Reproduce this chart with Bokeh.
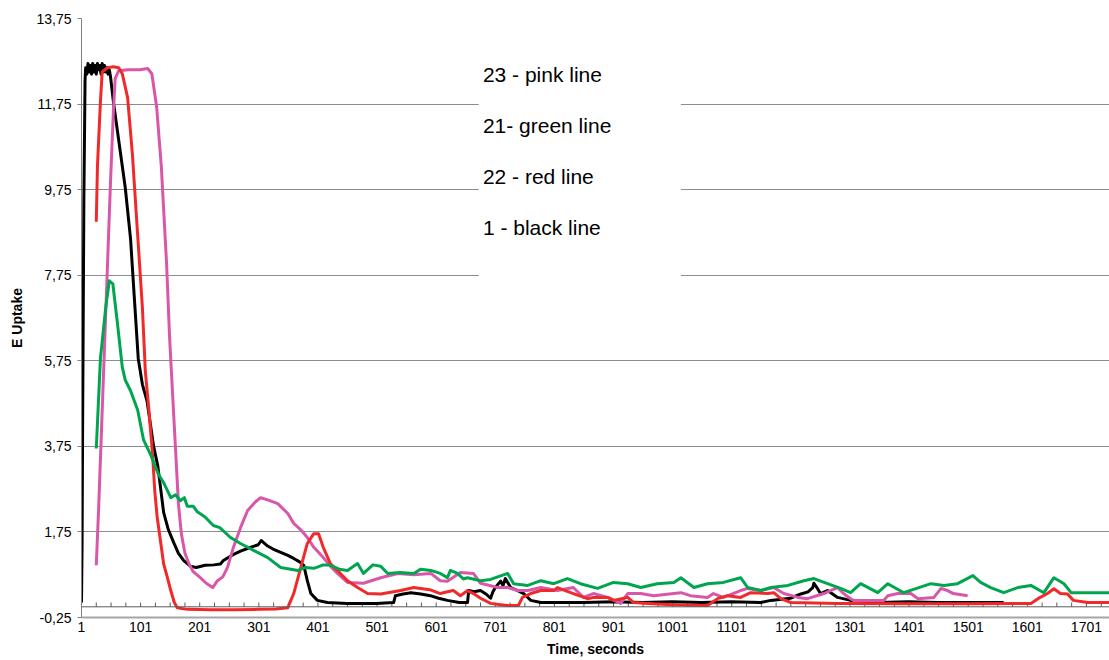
from bokeh.plotting import figure
from bokeh.layouts import row
from bokeh.models import (Range1d, FixedTicker, CustomJSTickFormatter, Span,
                          BoxAnnotation, Label, Spacer)
from bokeh.embed import file_html
from bokeh.resources import INLINE

FONT = "Liberation Sans"

# ---------------- data ----------------
black_x = [1, 2, 3, 5, 7, 8, 10, 12, 14, 16, 18, 20, 22, 24, 26, 28, 30, 32, 34, 36, 38, 40, 42, 44, 46, 48, 50,
           55, 65, 75, 84, 90, 97, 104, 112, 123, 130, 135, 140, 148, 157, 165, 174, 185, 195,
           210, 225, 236, 241, 255, 270, 285, 300, 305, 309, 316, 325, 338, 350, 360, 370, 377, 383, 389, 400, 417,
           450, 500, 529, 532, 545, 558, 575, 591, 605, 620, 640, 654, 656, 665, 676, 685, 693, 697, 701, 710, 714,
           718, 727, 739, 749, 761, 778,
           850, 900, 950, 1000, 1050, 1100, 1150, 1167, 1200, 1218, 1230, 1238, 1240, 1245, 1251, 1263, 1280, 1302,
           1350, 1400, 1450, 1500, 1561]
black_y = [0.1, 1.5, 4.5, 9.5, 12.3, 12.6,
           12.45, 12.7, 12.5, 12.65, 12.45, 12.7, 12.5, 12.65, 12.45, 12.7, 12.55, 12.65, 12.45, 12.7, 12.5, 12.65,
           12.5, 12.6, 12.45, 12.55, 12.4,
           11.8, 10.8, 9.8, 8.6, 7.3, 5.8, 5.2, 4.8, 3.75, 3.3, 2.75, 2.2, 1.8, 1.5, 1.25, 1.08, 0.95, 0.92,
           0.97, 0.98, 1.0, 1.08, 1.2, 1.3, 1.38, 1.45, 1.55, 1.5, 1.42, 1.35, 1.27, 1.2, 1.13, 1.05, 0.97, 0.61,
           0.31, 0.15, 0.1,
           0.08, 0.08, 0.1, 0.26, 0.3, 0.33, 0.3, 0.26, 0.2, 0.15, 0.1, 0.1, 0.38, 0.35, 0.38, 0.3, 0.2, 0.35,
           0.45, 0.6, 0.5, 0.66, 0.45, 0.38, 0.31, 0.15, 0.1,
           0.1, 0.12, 0.1, 0.12, 0.1, 0.12, 0.1, 0.15, 0.2, 0.3, 0.35, 0.45, 0.55, 0.45, 0.31, 0.38, 0.22, 0.15,
           0.1, 0.12, 0.1, 0.1, 0.1]

red_x = [26, 28, 33, 36, 45, 55, 64, 70, 79, 87, 95, 104, 109, 115, 121, 125, 129, 140, 146, 152,
         158, 163, 180, 220, 260, 300, 330, 350, 360, 372, 383, 394, 402, 410, 422, 439, 451, 468, 485, 507,
         541, 563, 590, 608, 620, 630, 642, 654, 664, 676, 693, 710, 722, 740, 747, 761, 778, 800, 806, 833,
         857, 867, 891, 901, 925, 935, 959, 1000, 1060, 1077, 1094, 1116, 1133, 1162, 1172, 1184, 1201, 1280,
         1400, 1500, 1607, 1619, 1635, 1646, 1657, 1669, 1679, 1703, 1740]
red_y = [9.0, 10.3, 11.8, 12.5, 12.6, 12.62, 12.6, 12.46, 11.9, 10.6, 8.9, 7.0, 5.5, 4.6, 3.6, 2.7, 2.1, 1.0,
         0.7, 0.38,
         0.1, -0.02, -0.06, -0.07, -0.07, -0.06, -0.05, -0.02, 0.31, 0.92, 1.48, 1.71, 1.71, 1.39, 1.01, 0.78,
         0.61, 0.45, 0.31, 0.3,
         0.38, 0.45, 0.4, 0.31, 0.35, 0.38, 0.26, 0.38, 0.31, 0.2, 0.08, 0.05, 0.03, 0.03, 0.22, 0.31, 0.38,
         0.38, 0.45, 0.31,
         0.19, 0.22, 0.22, 0.15, 0.22, 0.1, 0.08, 0.05, 0.03, 0.19, 0.26, 0.22, 0.33, 0.31, 0.33, 0.19, 0.1,
         0.08, 0.07, 0.07, 0.08, 0.19, 0.31, 0.42, 0.31, 0.3, 0.15, 0.1, 0.1]

green_x = [26, 33, 42, 48, 54, 62, 70, 75, 84, 96, 106, 118, 131, 140, 147, 152, 160, 168, 175, 180,
           190, 197, 210, 224, 235, 253, 270, 292, 316, 338, 355, 367, 380, 394, 410, 422, 437, 451, 468, 478,
           494, 507, 519, 540, 563, 575, 592, 608, 620, 625, 637, 647, 654, 676, 693, 705, 722, 732, 756, 778,
           800, 823, 845, 874, 901, 925, 947, 975, 1003, 1015, 1037, 1060, 1087, 1116, 1128, 1150, 1167, 1196,
           1223, 1240, 1263, 1285, 1302, 1319, 1348, 1365, 1392, 1438, 1460, 1483, 1509, 1522, 1539, 1561,
           1585, 1607, 1629, 1646, 1663, 1675, 1740]
green_y = [3.7, 5.8, 7.0, 7.62, 7.55, 6.6, 5.6, 5.3, 5.05, 4.6, 3.9, 3.55, 3.1, 2.9, 2.7, 2.55, 2.62, 2.48,
           2.55, 2.35,
           2.35, 2.22, 2.1, 1.9, 1.85, 1.62, 1.48, 1.32, 1.15, 0.92, 0.88, 0.85, 0.92, 0.9, 0.98, 0.97, 0.88,
           0.85, 1.01, 0.78,
           0.98, 0.95, 0.78, 0.8, 0.78, 0.88, 0.85, 0.78, 0.68, 0.85, 0.78, 0.65, 0.68, 0.61, 0.64, 0.7, 0.78,
           0.54, 0.5, 0.61,
           0.54, 0.66, 0.54, 0.43, 0.57, 0.54, 0.45, 0.54, 0.57, 0.68, 0.45, 0.54, 0.57, 0.68, 0.45, 0.38,
           0.45, 0.5, 0.61, 0.66, 0.54, 0.43, 0.33, 0.54, 0.33, 0.54, 0.33, 0.54, 0.5, 0.54, 0.73, 0.57, 0.45,
           0.33, 0.45, 0.5, 0.33, 0.68, 0.54, 0.33, 0.33]

pink_x = [26, 30, 35, 40, 45, 50, 55, 58, 64, 80, 100, 113, 120, 128, 136, 145, 150, 155, 160, 165,
          170, 176, 183, 190, 202, 212, 223, 231, 240, 248, 258, 270, 282, 295, 304, 316, 333, 350, 360, 372,
          383, 394, 410, 422, 434, 451, 478, 507, 536, 563, 592, 608, 620, 642, 664, 676, 705, 722, 739, 756,
          778, 806, 833, 850, 867, 891, 913, 925, 947, 969, 1003, 1015, 1031, 1060, 1070, 1087, 1116, 1128,
          1150, 1172, 1189, 1213, 1229, 1257, 1268, 1280, 1290, 1302, 1307, 1358, 1365, 1382, 1404, 1416,
          1443, 1455, 1466, 1476, 1500]
pink_y = [0.97, 2.3, 4.2, 6.1, 8.0, 9.9, 11.6, 12.35, 12.53, 12.55, 12.55, 12.58, 12.46, 11.7, 10.3, 8.0,
          6.3, 5.0, 3.7, 2.4,
          1.7, 1.25, 1.0, 0.82, 0.68, 0.55, 0.45, 0.61, 0.7, 0.92, 1.39, 1.85, 2.25, 2.45, 2.55, 2.5, 2.41,
          2.18, 1.95, 1.8,
          1.62, 1.39, 1.15, 0.95, 0.78, 0.57, 0.55, 0.68, 0.78, 0.75, 0.78, 0.61, 0.6, 0.8, 0.78, 0.55, 0.45,
          0.45, 0.38, 0.38,
          0.45, 0.38, 0.45, 0.22, 0.31, 0.22, 0.08, 0.31, 0.31, 0.26, 0.31, 0.33, 0.26, 0.22, 0.31, 0.22, 0.38,
          0.43, 0.38, 0.45, 0.31, 0.22, 0.19, 0.31, 0.38, 0.45, 0.31, 0.19, 0.15, 0.15, 0.26, 0.31, 0.31,
          0.19, 0.22, 0.43, 0.38, 0.31, 0.26]

x_tick_values = [1, 101, 201, 301, 401, 501, 601, 701, 801, 901, 1001, 1101, 1201, 1301, 1401, 1501, 1601, 1701]
y_tick_values = [-0.25, 1.75, 3.75, 5.75, 7.75, 9.75, 11.75, 13.75]
legend_labels = ["23 - pink line", "21- green line", "22 - red line", "1 - black line"]

for xs, ys in [(black_x, black_y), (red_x, red_y), (green_x, green_y), (pink_x, pink_y)]:
    assert len(xs) == len(ys), (len(xs), len(ys))

# ---------------- figure ----------------
p = figure(width=1104, height=660, output_backend="svg", toolbar_location=None,
           x_range=Range1d(1, 1740), y_range=Range1d(-0.25, 13.75),
           min_border_left=76, min_border_right=0, min_border_top=18, min_border_bottom=43)
p.outline_line_color = None
p.background_fill_color = "white"
p.border_fill_color = "white"

p.xgrid.visible = False
yt = FixedTicker(ticks=y_tick_values)
p.yaxis.ticker = yt
p.ygrid.ticker = yt
p.ygrid.grid_line_color = "#8c8c8c"
p.ygrid.grid_line_width = 1

p.yaxis.formatter = CustomJSTickFormatter(code="return tick.toFixed(2).replace('.', ',');")
p.yaxis.axis_line_color = "#808080"
p.yaxis.major_tick_line_color = "#808080"
p.yaxis.major_tick_out = 4
p.yaxis.major_tick_in = 0
p.yaxis.minor_tick_line_color = None
p.yaxis.major_label_text_font = FONT
p.yaxis.major_label_text_font_size = "14px"
p.yaxis.major_label_text_color = "black"
p.yaxis.major_label_standoff = 6
p.yaxis.axis_label = "E Uptake"
p.yaxis.axis_label_text_font = FONT
p.yaxis.axis_label_text_font_style = "bold"
p.yaxis.axis_label_text_font_size = "14px"
p.yaxis.axis_label_text_color = "black"
p.yaxis.axis_label_standoff = 8

p.xaxis.ticker = FixedTicker(ticks=x_tick_values)
p.xaxis.formatter = CustomJSTickFormatter(code="return tick.toFixed(0);")
p.xaxis.axis_line_color = "#a6a6a6"
p.xaxis.axis_line_width = 2
p.xaxis.major_tick_line_color = None
p.xaxis.minor_tick_line_color = None
p.xaxis.major_label_text_font = FONT
p.xaxis.major_label_text_font_size = "14px"
p.xaxis.major_label_text_color = "black"
p.xaxis.major_label_standoff = -2
p.xaxis.axis_label = "Time, seconds"
p.xaxis.axis_label_text_font = FONT
p.xaxis.axis_label_text_font_style = "bold"
p.xaxis.axis_label_text_font_size = "14px"
p.xaxis.axis_label_text_color = "black"
p.xaxis.axis_label_standoff = 6

# category axis crossing at zero, with inside tick marks every 25 points
p.add_layout(Span(location=0, dimension="width", line_color="#5a5a5a", line_width=1))
tick_marks = list(range(1, 1740, 25))
p.segment(x0=tick_marks, y0=[0] * len(tick_marks), x1=tick_marks, y1=[0.1] * len(tick_marks),
          line_color="#5a5a5a", line_width=1)

# series
series = [(black_x, black_y, "#000000"), (pink_x, pink_y, "#d957a8"),
          (red_x, red_y, "#f02a2a"), (green_x, green_y, "#00a550")]
for xs, ys, col in series:
    p.line(xs, ys, line_color=col, line_width=3, line_join="round")

# text legend on a white box
p.add_layout(BoxAnnotation(left=673, right=1015, bottom=7.5, top=13.3,
                           fill_color="white", fill_alpha=1.0, line_color=None))
legend_y = [12.45, 11.24, 10.05, 8.86]
for t, yv in zip(legend_labels, legend_y):
    p.add_layout(Label(x=680, y=yv, text=t, text_font=FONT, text_font_size="21px",
                       text_baseline="alphabetic", text_color="black"))

layout = row(Spacer(width=5, height=660), p)
open("out.html", "w").write(file_html(layout, INLINE))
